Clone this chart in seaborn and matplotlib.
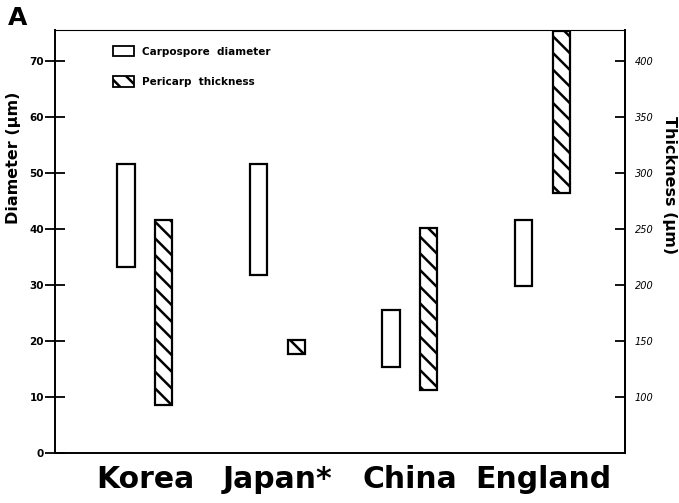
import matplotlib
matplotlib.use("Agg")
import matplotlib.pyplot as plt
import seaborn as sns
import numpy as np
from matplotlib.patches import Patch

sns.set_style("white", rc={"text.color": "black", "axes.labelcolor": "black",
                           "xtick.color": "black", "ytick.color": "black",
                           "axes.edgecolor": "black"})
plt.rcParams['font.family'] = ['DejaVu Sans']
plt.rcParams['hatch.linewidth'] = 1.8
plt.rcParams['hatch.color'] = 'black'

countries = ["Korea", "Japan*", "China", "England"]
diam_low = [33.2, 31.8, 15.4, 29.8]
diam_high = [51.6, 51.6, 25.5, 41.6]
thick_low = [93, 138, 106, 282]
thick_high = [258, 151, 251, 427]

fig = plt.figure(figsize=(6.79, 5.03), dpi=100)
ax = fig.add_axes([55/679, 1-453/503, 570/679, 423/503])
ax2 = ax.twinx()

x = np.arange(len(countries))
w = 0.13
ax.bar(x - 0.145, np.array(diam_high) - np.array(diam_low), bottom=diam_low,
       width=w, facecolor="white", edgecolor="black", linewidth=1.6)
ax2.bar(x + 0.14, np.array(thick_high) - np.array(thick_low), bottom=thick_low,
        width=w, facecolor="white", edgecolor="black", linewidth=1.6, hatch="\\\\")

ax.set_xlim(-0.68, 3.62)
ax.set_ylim(0, 75.5)
ax2.set_ylim(50, 50 + 5 * 75.5)

yt = [0, 10, 20, 30, 40, 50, 60, 70]
ax.set_yticks(yt)
ax.set_yticklabels([str(v) for v in yt], fontsize=7.5, fontweight="bold")
yt2 = [100, 150, 200, 250, 300, 350, 400]
ax2.set_yticks(yt2)
ax2.set_yticklabels([str(v) for v in yt2], fontsize=7, fontstyle="italic")

ax.set_xticks(x)
ax.set_xticklabels(countries, fontsize=21.5, fontweight="bold")
ax.tick_params(axis="x", length=0, pad=9)
ax.tick_params(axis="y", direction="inout", length=14, width=1.3, pad=1)
ax2.tick_params(axis="y", direction="in", length=7, width=1.3, pad=7)

for s in ax.spines.values():
    s.set_color("black")
    s.set_linewidth(1.4)
ax.spines["top"].set_linewidth(0.8)
for s in ax2.spines.values():
    s.set_visible(False)
ax2.spines["right"].set_visible(True)
ax2.spines["right"].set_color("black")
ax2.spines["right"].set_linewidth(1.4)

fig.text(14/679, 1-158/503, "Diameter (µm)", fontsize=11.5, fontweight="bold",
         rotation=90, ha="center", va="center")
fig.text(669/679, 1-185/503, "Thickness (µm)", fontsize=11.5, fontweight="bold",
         rotation=270, ha="center", va="center")

handles = [Patch(facecolor="white", edgecolor="black", linewidth=1.3),
           Patch(facecolor="white", edgecolor="black", linewidth=1.3, hatch="\\\\")]
leg = ax.legend(handles, ["Carpospore  diameter", "Pericarp  thickness"],
                loc="upper left", bbox_to_anchor=(0.085, 0.985), frameon=False,
                prop={"size": 7.5, "weight": "bold"}, handlelength=2.0,
                handleheight=1.2, labelspacing=1.85, handletextpad=0.8)

fig.text(18/679, 1-18/503, "A", fontsize=18, fontweight="bold", va="center",
         ha="center")

fig.savefig("out.png", dpi=100)
